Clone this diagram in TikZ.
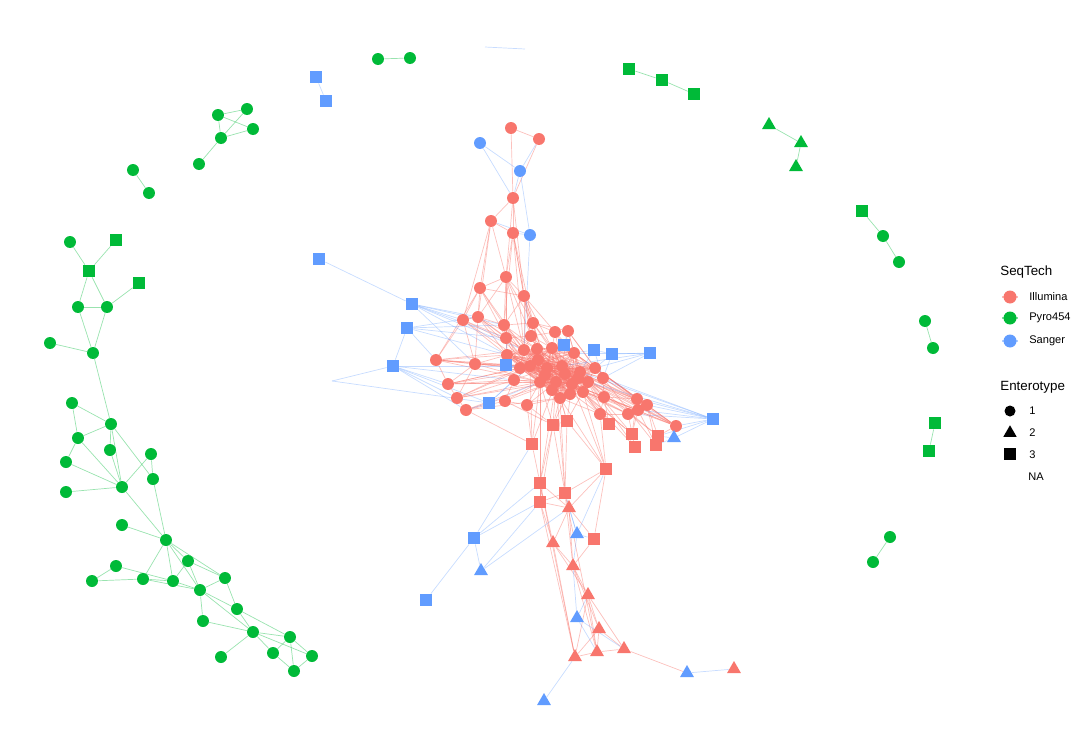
\documentclass[tikz,border=0pt]{standalone}
\usepackage{fontspec}
\setmainfont{Liberation Sans}
\usepackage{xcolor}
\definecolor{illumina}{HTML}{F8766D}
\definecolor{pyro}{HTML}{00BA38}
\definecolor{sanger}{HTML}{619CFF}
\usepackage{tikz}
\usetikzlibrary{shapes.geometric, backgrounds}

\begin{document}
\begin{tikzpicture}[x=0.02cm, y=-0.02cm,
  dot/.style={circle, inner sep=0pt, minimum size=2.4mm},
  sq/.style={rectangle, inner sep=0pt, minimum size=2.4mm},
  tri/.style={regular polygon, regular polygon sides=3, inner sep=0pt, minimum size=3.2mm},
  iC/.style={dot, fill=illumina}, iS/.style={sq, fill=illumina}, iT/.style={tri, fill=illumina},
  pC/.style={dot, fill=pyro}, pS/.style={sq, fill=pyro}, pT/.style={tri, fill=pyro},
  sC/.style={dot, fill=sanger}, sS/.style={sq, fill=sanger}, sT/.style={tri, fill=sanger},
  iE/.style={draw=illumina, draw opacity=0.45, line width=0.4pt},
  pE/.style={draw=pyro, draw opacity=0.4, line width=0.4pt},
  sE/.style={draw=sanger, draw opacity=0.35, line width=0.4pt},
  keyline/.style={line width=1pt, draw opacity=0.5},
  ttl/.style={font=\fontsize{7.6}{9}\selectfont, anchor=west, inner sep=0pt},
  lab/.style={font=\fontsize{6.3}{8}\selectfont, anchor=west, inner sep=0pt}]
  \useasboundingbox (0,0) rectangle (1080,744);

  \foreach \n/\s/\x/\y in {r1/iC/511/128, r2/iC/539/139, r3/iC/513/198, r4/iC/491/221, r5/iC/513/233,
      r6/iC/506/277, r7/iC/480/288, r8/iC/524/296, r9/iC/463/320, r10/iC/478/317, r11/iC/504/325,
      r12/iC/533/323, r13/iC/506/338, r14/iC/531/336, r15/iC/555/332, r16/iC/568/331, r17/iC/436/360,
      r18/iC/475/364, r19/iC/448/384, r20/iC/457/398, r21/iC/466/410, r22/iC/505/401, r23/iC/527/405,
      r24/iC/514/380, k1/iC/524/350, k2/iC/537/349, k3/iC/552/348, k4/iC/574/353, k5/iC/507/355,
      k6/iC/530/366, k7/iC/547/368, k8/iC/562/366, k9/iC/580/372, k10/iC/540/382, k11/iC/556/382,
      k12/iC/572/384, k13/iC/588/382, k14/iC/560/398, k15/iC/583/392, k16/iC/520/368, k17/iC/595/368,
      k18/iC/545/375, k19/iC/565/374, k20/iC/552/390, k21/iC/578/378, k22/iC/538/360, k23/iC/570/394,
      r25/iC/603/378, r26/iC/604/397, r27/iC/637/399, r28/iC/647/405, r29/iC/638/410, r30/iC/628/414,
      r31/iC/600/414, r32/iC/676/426,
      q1/iS/553/425, q2/iS/567/421, q3/iS/609/424, q4/iS/632/434, q5/iS/658/436, q6/iS/635/447,
      q7/iS/656/445, q8/iS/532/444, q9/iS/606/469, q10/iS/540/483, q11/iS/565/493, q12/iS/540/502,
      q13/iS/594/539,
      t1/iT/569/508, t2/iT/553/543, t3/iT/573/566, t4/iT/588/595, t5/iT/599/629, t6/iT/575/657,
      t7/iT/597/652, t8/iT/624/649, t9/iT/734/669}
    \node[\s] (\n) at (\x,\y) {};

  \foreach \n/\s/\x/\y in {g1/pC/378/59, g2/pC/410/58, g3/pS/629/69, g4/pS/662/80, g5/pS/694/94,
      g6/pT/769/125, g7/pT/801/143, g8/pT/796/167, g9/pS/862/211, g10/pC/883/236, g11/pC/899/262,
      g12/pC/925/321, g13/pC/933/348, g14/pS/935/423, g15/pS/929/451, g16/pC/890/537, g17/pC/873/562,
      g18/pC/218/115, g19/pC/247/109, g20/pC/253/129, g21/pC/221/138, g22/pC/199/164, g23/pC/133/170,
      g24/pC/149/193, g25/pC/70/242, g26/pS/116/240, g27/pS/89/271, g28/pS/139/283, g29/pC/78/307,
      g30/pC/107/307, g31/pC/50/343, g32/pC/93/353, g33/pC/72/403, g34/pC/111/424, g35/pC/78/438,
      g36/pC/110/450, g37/pC/66/462, g38/pC/151/454, g39/pC/153/479, g40/pC/122/487, g41/pC/66/492,
      g42/pC/122/525, g43/pC/166/540, g44/pC/188/561, g45/pC/116/566, g46/pC/92/581, g47/pC/143/579,
      g48/pC/173/581, g49/pC/225/578, g50/pC/200/590, g51/pC/237/609, g52/pC/203/621, g53/pC/253/632,
      g54/pC/290/637, g55/pC/221/657, g56/pC/273/653, g57/pC/312/656, g58/pC/294/671}
    \node[\s] (\n) at (\x,\y) {};

  \foreach \n/\s/\x/\y in {b1/sC/480/143, b2/sC/520/171, b3/sC/530/235, b4/sS/316/77, b5/sS/326/101,
      b6/sS/319/259, b7/sS/412/304, b8/sS/407/328, b9/sS/393/366, b10/sS/489/403, b11/sS/564/345,
      b12/sS/594/350, b13/sS/612/354, b14/sS/650/353, b15/sS/713/419, b16/sS/474/538, b17/sS/426/600,
      b18/sS/506/365, b19/sT/674/438, b20/sT/577/534, b21/sT/577/618, b22/sT/687/673, b23/sT/544/701,
      b24/sT/481/571}
    \node[\s] (\n) at (\x,\y) {};

  \coordinate (c1) at (332,381);
  \coordinate (c2) at (485,47);
  \coordinate (c3) at (525,49);

  \begin{scope}[on background layer]
    \foreach \a/\nb in {r1/{r2,r3}, r2/{r3}, r3/{r4,r5,r6,r8}, r4/{r5,r6,r7,r9,r10}, r5/{r6,r8,r11,r12,k1,r14},
        r6/{r7,r8,r10,r11,r12,r13,k1,k2,k5}, r7/{r8,r9,r10,r11,r13,k1,r17},
        r8/{r11,r12,r14,r15,k1,k2,k3,k7}, r9/{r10,r13,r17,k5,k6,k1,r18}, r10/{r11,r13,k1,k5,k6,k2,r18},
        r11/{r12,r13,k1,k2,k6,k7,k16}, r12/{r14,r15,k2,k3,k7,k8,r16}, r13/{r14,k1,k5,k6,k16,k10},
        r14/{r15,k1,k2,k3,k7,k8}, r15/{r16,k3,k4,k8,k9}, r16/{k4,k8,k9,k17,r25},
        r17/{r18,r19,k5,k6,k16,k1,k7,k10}, r18/{r19,r20,k5,k6,k16,k10,k7},
        r19/{r20,r24,k6,k10,k16,k7,k11}, r20/{r21,r24,k10,k16,k6,k11}, r21/{r22,k10,k14,q8,k11},
        r22/{r23,k10,k11,r24,q1}, r23/{k10,k11,k14,q1,q8}, r24/{k6,k10,k7,k11},
        r25/{k4,k9,k13,k17,r26,k8}, r26/{k13,k15,k12,r31,r27,k9}, r27/{r28,r29,k9,k13,k17,r25,k4},
        r28/{r29,r32,k9,k13,k17,k8}, r29/{r30,k15,k13,k12}, r30/{r31,k15,k12,k11},
        r31/{k12,k14,k15,q3,k11}, r32/{k9,k13,k15,r25,k17,r26,k4,k12,k8},
        q1/{k10,k11,k14,k12,q2}, q2/{k11,k12,k14,k15}, q3/{k13,k15,r26}, q4/{r27,r29,k15,q6,k13,k12},
        q5/{r28,r32,q7,k9,k13}, q6/{r30,k13,k15}, q7/{r29,r28,k17}, q8/{k10,k6,q10,k11},
        q9/{q2,k12,k15,q11,t1,r31,k14}, q10/{q1,k10,q12,t2,k11}, q11/{q1,q2,k11,t1,q12,t3,k14},
        q12/{t2,t1,q1,k10}, q13/{t1,t3,q9}, t1/{t2,t3,q10}, t2/{t3,t4,t6}, t3/{t4,t5,t7},
        t4/{t5,t8,t6,t7}, t5/{t6,t7,t8}, t6/{t7,q10,q12}, t7/{t8,q11}, t8/{b22}}
      \foreach \b in \nb
        \draw[iE] (\a) -- (\b);
    \foreach \i [evaluate=\i as \m using int(\i+1)] in {1,...,22}
      \foreach \j in {\m,...,23}
        \draw[iE] (k\i) -- (k\j);

    \foreach \a/\nb in {b4/{b5}, b1/{b2,r3}, b2/{r2,r3,b3}, b3/{r5,r4,k1}, b6/{b7},
        b7/{r9,r10,r13,k1,k5,r18,r11}, b8/{b9,r10,r11,k5,r13,r17}, b9/{r19,r20,r21,b10,r24,k6},
        b10/{r21,k6,r24,k10}, b11/{k3,k4,r16}, b12/{k4,k9,b13,r25}, b13/{r25,k17},
        b14/{b13,k4,k8,r25,k17}, b15/{r27,r28,r29,r32,b19,q5,k9,r25,r30,k13}, b19/{r32,q5,q7},
        b16/{b24,b17,q10,q12,q8}, b24/{q12,t1}, b20/{t1,q11,q13,t3,q9}, b21/{t3,t4,t7,t8},
        b22/{t9}, b23/{t6}, b18/{k6,r13,k16,k5}, c1/{b9,b10}, c2/{c3}}
      \foreach \b in \nb
        \draw[sE] (\a) -- (\b);

    \foreach \a/\nb in {g1/{g2}, g3/{g4}, g4/{g5}, g6/{g7}, g7/{g8}, g9/{g10}, g10/{g11}, g12/{g13},
        g14/{g15}, g16/{g17}, g18/{g19,g20,g21}, g19/{g21}, g21/{g20,g22}, g23/{g24},
        g25/{g27}, g26/{g27}, g27/{g29,g30}, g29/{g30,g32}, g28/{g30}, g30/{g32}, g31/{g32},
        g32/{g34}, g33/{g34,g35}, g34/{g35,g40,g39,g36}, g35/{g37,g40}, g36/{g40}, g37/{g40},
        g41/{g40}, g38/{g40,g39}, g39/{g43}, g40/{g43}, g42/{g43}, g43/{g44,g48,g47,g50,g49},
        g44/{g50,g49,g48}, g45/{g46,g48}, g46/{g47}, g47/{g48,g50}, g48/{g50},
        g50/{g51,g52,g53,g49}, g49/{g51}, g51/{g53,g54}, g52/{g53}, g53/{g55,g54,g56,g57},
        g54/{g56,g58,g57}, g56/{g58}, g57/{g58}}
      \foreach \b in \nb
        \draw[pE] (\a) -- (\b);
  \end{scope}

  \node[ttl] (seqtech) at (1000,272) {SeqTech};
  \coordinate (kIa) at (1002,297); \coordinate (kIb) at (1018,297);
  \coordinate (kPa) at (1002,318); \coordinate (kPb) at (1018,318);
  \coordinate (kSa) at (1002,341); \coordinate (kSb) at (1018,341);
  \draw[keyline, draw=illumina] (kIa) -- (kIb);
  \draw[keyline, draw=pyro] (kPa) -- (kPb);
  \draw[keyline, draw=sanger] (kSa) -- (kSb);
  \node[iC, minimum size=2.6mm] (keyI) at (1010,297) {};
  \node[pC, minimum size=2.6mm] (keyP) at (1010,318) {};
  \node[sC, minimum size=2.6mm] (keyS) at (1010,341) {};
  \node[lab] (labI) at (1029,297) {Illumina};
  \node[lab] (labP) at (1029,318) {Pyro454};
  \node[lab] (labS) at (1029,341) {Sanger};

  \node[ttl] (entero) at (1000,387) {Enterotype};
  \node[dot, fill=black, minimum size=2.2mm] (key1) at (1010,411) {};
  \node[tri, fill=black, minimum size=3.1mm] (key2) at (1010,433) {};
  \node[sq, fill=black, minimum size=2.3mm] (key3) at (1010,454) {};
  \node[lab] (lab1) at (1029,411) {1};
  \node[lab] (lab2) at (1029,433) {2};
  \node[lab] (lab3) at (1029,455) {3};
  \node[lab] (labNA) at (1028,477) {NA};
\end{tikzpicture}
\end{document}
